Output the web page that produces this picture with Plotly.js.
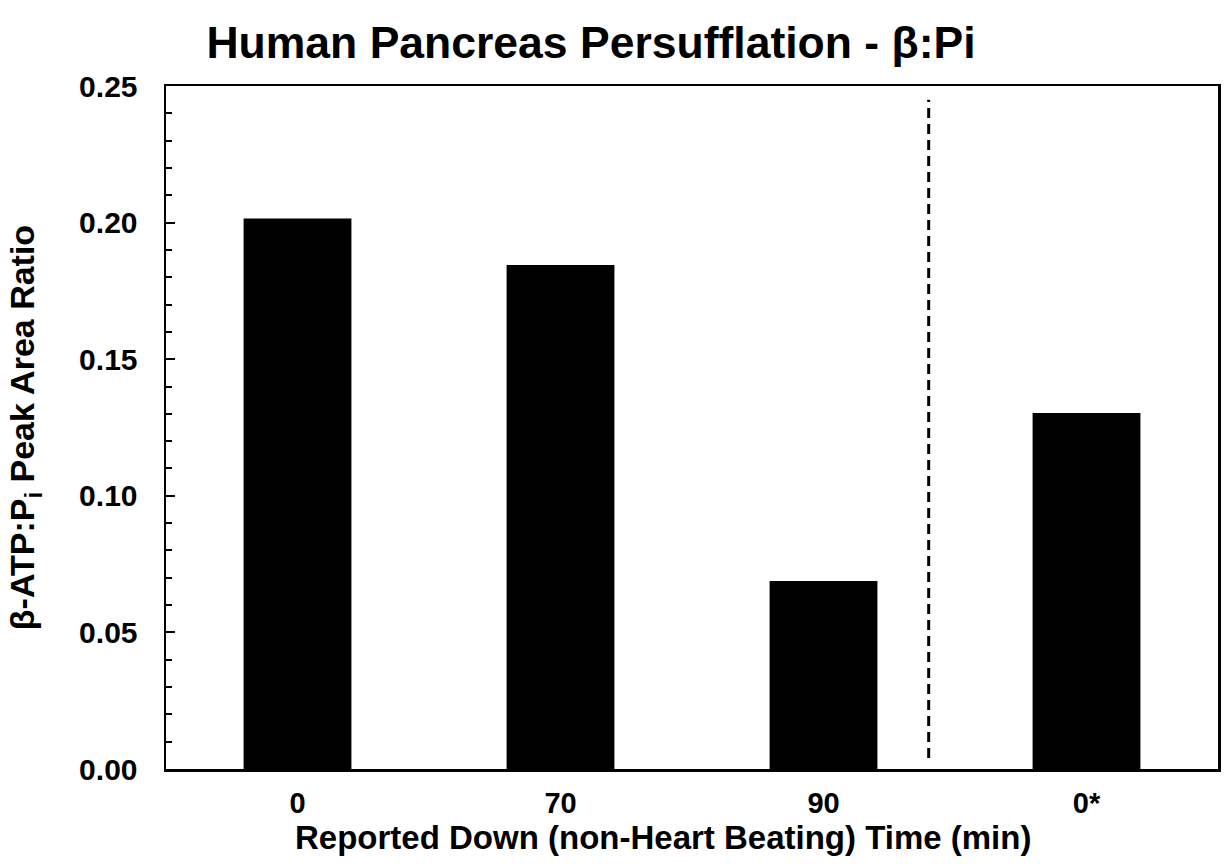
<!DOCTYPE html>
<html>
<head>
<meta charset="utf-8">
<script src="https://cdn.plot.ly/plotly-3.0.1.min.js"></script>
<style>html,body{margin:0;padding:0;background:#fff;}#chart{width:1225px;height:864px;}</style>
</head>
<body>
<div id="chart"></div>
<script>
// Data
const categories = ["0", "70", "90", "0*"];
const ratioValues = [0.2015, 0.1845, 0.0688, 0.1303];
const yTickValues = [0, 0.05, 0.10, 0.15, 0.20, 0.25];
const yTickLabels = ["0.00", "0.05", "0.10", "0.15", "0.20", "0.25"];
// Dashed separator between groups (category index position, y extent)
const dividerX = [2.4, 2.4];
const dividerY = [0.004, 0.245];

const FONT = '"Liberation Sans", Arial, sans-serif';

const trace = {
  type: 'bar',
  x: categories,
  y: ratioValues,
  width: 0.41,
  marker: {color: '#000000', line: {width: 0}},
  hoverinfo: 'x+y'
};

const layout = {
  width: 1225,
  height: 864,
  margin: {l: 166, r: 7, t: 86, b: 95, pad: 0},
  paper_bgcolor: '#ffffff',
  plot_bgcolor: '#ffffff',
  showlegend: false,
  font: {family: FONT, color: '#000', weight: 'bold'},
  title: {
    text: 'Human Pancreas Persufflation - β:Pi',
    font: {family: FONT, size: 44.5, color: '#000', weight: 'bold'},
    xref: 'container', x: 591 / 1225, xanchor: 'center',
    yref: 'container', y: 1 - 42 / 864, yanchor: 'middle'
  },
  xaxis: {
    type: 'category',
    categoryorder: 'array',
    categoryarray: categories,
    range: [-0.5, 3.5],
    showline: true, linecolor: '#000', linewidth: 2.5, mirror: true,
    ticks: '', showgrid: false, zeroline: false,
    tickfont: {family: FONT, size: 29, color: '#000', weight: 'bold'},
    ticklabelstandoff: 7,
    automargin: false
  },
  yaxis: {
    range: [0, 0.25],
    tickvals: yTickValues,
    ticktext: yTickLabels,
    showline: true, linecolor: '#000', linewidth: 2.5, mirror: true,
    ticks: 'inside', ticklen: 9, tickwidth: 2, tickcolor: '#000',
    minor: {dtick: 0.01, ticks: 'inside', ticklen: 6, tickwidth: 2, tickcolor: '#000', showgrid: false},
    showgrid: false, zeroline: false,
    tickfont: {family: FONT, size: 30, color: '#000', weight: 'bold'},
    ticklabelstandoff: 20,
    title: {
      text: 'β-ATP:P<sub>i</sub> Peak Area Ratio',
      font: {family: FONT, size: 34, color: '#000', weight: 'bold'},
      standoff: 34
    },
    automargin: false
  },
  annotations: [{
    text: 'Reported Down (non-Heart Beating) Time (min)',
    xref: 'paper', yref: 'paper',
    x: (663 - 166) / 1052, y: (769 - 837) / 683,
    xanchor: 'center', yanchor: 'middle',
    showarrow: false,
    font: {family: FONT, size: 33, color: '#000', weight: 'bold'}
  }],
  shapes: [{
    type: 'line', xref: 'x', yref: 'y',
    x0: dividerX[0], x1: dividerX[1], y0: dividerY[0], y1: dividerY[1],
    line: {color: '#000', width: 3, dash: '10px,6px'}
  }]
};

Plotly.newPlot('chart', [trace], layout, {displayModeBar: false, staticPlot: true});
</script>
</body>
</html>
